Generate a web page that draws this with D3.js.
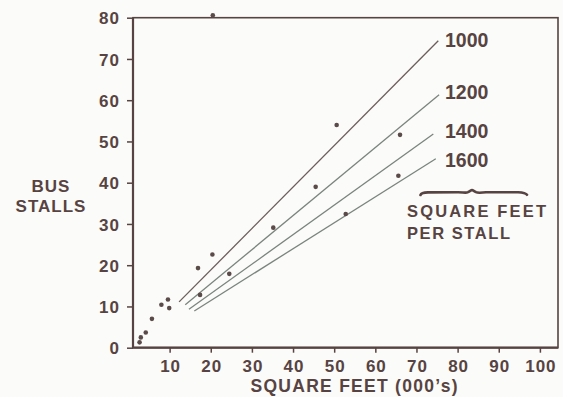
<!DOCTYPE html>
<html>
<head>
<meta charset="utf-8">
<script src="https://cdn.jsdelivr.net/npm/d3@7"></script>
<style>
  html, body { margin: 0; padding: 0; background: #fbfbf9; }
  svg { display: block; }
  text { font-family: "Liberation Sans", Arial, sans-serif; font-weight: bold; fill: #574341; }
</style>
</head>
<body>
<svg id="chart" width="563" height="397"></svg>
<script>
// Observed bus terminals: floor area (thousands of sq ft) vs. number of bus stalls
const areaK  = [2.7, 3.0, 4.2, 5.7, 8.0, 9.6, 9.9, 16.9, 20.4, 17.4, 24.5, 35.2, 45.5, 50.6, 52.8, 65.6, 66.0, 20.5];
const stalls = [1.3, 2.5, 3.7, 7.0, 10.4, 11.7, 9.6, 19.3, 22.6, 12.8, 17.9, 29.1, 39.0, 54.0, 32.4, 41.7, 51.6, 80.6];

// Reference lines for constant square feet per stall: [start, end] as [area, stalls]
const lineLabels = ["1000", "1200", "1400", "1600"];
const lineStart  = [[12.3, 11.1], [13.8, 10.4], [14.7, 9.3], [16.0, 8.9]];
const lineEnd    = [[75.3, 74.4], [75.5, 61.3], [74.1, 51.8], [74.7, 45.8]];

const xTicks = [10, 20, 30, 40, 50, 60, 70, 80, 90, 100];
const yTicks = [0, 10, 20, 30, 40, 50, 60, 70, 80];

const ink = "#574341";
const svg = d3.select("#chart");

const x = d3.scaleLinear().domain([1.1, 104.4]).range([133, 558]);
const y = d3.scaleLinear().domain([0, 80]).range([347.7, 17.7]);

// Frame around the plotting area
svg.append("rect")
  .attr("x", x.range()[0]).attr("y", y.range()[1])
  .attr("width", x.range()[1] - x.range()[0])
  .attr("height", y.range()[0] - y.range()[1])
  .attr("fill", "none").attr("stroke", ink).attr("stroke-width", 1.6);

// Heavier left and bottom axis lines
svg.append("line").attr("x1", 133).attr("x2", 133).attr("y1", 17.7).attr("y2", 348)
  .attr("stroke", ink).attr("stroke-width", 2.2);
svg.append("line").attr("x1", 132).attr("x2", 558).attr("y1", 347.7).attr("y2", 347.7)
  .attr("stroke", ink).attr("stroke-width", 2.2);

// Y axis
const gy = svg.append("g").attr("transform", "translate(133,0)")
  .call(d3.axisLeft(y).tickValues(yTicks).tickSize(6).tickPadding(8));
gy.select(".domain").remove();
gy.selectAll(".tick line").attr("stroke", ink).attr("stroke-width", 1.5);
gy.selectAll(".tick text")
  .attr("fill", ink).attr("font-size", 17).attr("letter-spacing", "1px")
  .attr("font-family", "Liberation Sans, Arial, sans-serif").attr("font-weight", "bold")
  .attr("x", -13).attr("dy", "0.36em");

// X axis
const gx = svg.append("g").attr("transform", "translate(0,347.7)")
  .call(d3.axisBottom(x).tickValues(xTicks).tickSize(5));
gx.select(".domain").remove();
gx.selectAll(".tick line").attr("stroke", ink).attr("stroke-width", 1.5);
gx.selectAll(".tick text")
  .attr("fill", ink).attr("font-size", 17).attr("letter-spacing", "1px")
  .attr("font-family", "Liberation Sans, Arial, sans-serif").attr("font-weight", "bold")
  .attr("y", 24.5).attr("dy", 0).attr("dx", "0.5px");

// Axis titles
svg.append("text").attr("x", 354).attr("y", 392).attr("text-anchor", "middle")
  .attr("font-size", 17.5).attr("textLength", 207).attr("lengthAdjust", "spacing")
  .text("SQUARE FEET (000\u2019s)");
svg.append("text").attr("x", 51).attr("y", 192).attr("text-anchor", "middle")
  .attr("font-size", 17).attr("letter-spacing", "1px").text("BUS");
svg.append("text").attr("x", 51).attr("y", 212).attr("text-anchor", "middle")
  .attr("font-size", 17).attr("letter-spacing", "1px").text("STALLS");

// Constant-density reference lines
const lineColors = ["#6c5d5b", "#7a847e", "#7a847e", "#7a847e"];
lineLabels.forEach((lab, i) => {
  svg.append("line")
    .attr("x1", x(lineStart[i][0])).attr("y1", y(lineStart[i][1]))
    .attr("x2", x(lineEnd[i][0])).attr("y2", y(lineEnd[i][1]))
    .attr("stroke", lineColors[i]).attr("stroke-width", 1.3);
});

// Labels at the upper end of each line
const labelY = [46.5, 98.5, 138.2, 166.5];
svg.selectAll("text.linelab").data(lineLabels).join("text")
  .attr("class", "linelab")
  .attr("x", 445).attr("y", (d, i) => labelY[i])
  .attr("font-size", 19.5)
  .text(d => d);

// Brace and legend caption
svg.append("path")
  .attr("d", "M420.5,195 C421,193.5 423,192.6 428,192.4 L458,192.2 C463,192.2 466,193.2 468,192.2 C470,191 471,190.3 472,190.1 C473,190.3 474,191 476,192.2 C478,193.2 481,192.6 486,192.3 L518,192.3 C523,192.6 526,193.4 527,194.8")
  .attr("fill", "none").attr("stroke", ink).attr("stroke-width", 2.6).attr("stroke-linecap", "round");
svg.append("text").attr("x", 407).attr("y", 216.7)
  .attr("font-size", 16.5).attr("textLength", 139).attr("lengthAdjust", "spacing")
  .text("SQUARE FEET");
svg.append("text").attr("x", 407).attr("y", 239)
  .attr("font-size", 16.5).attr("textLength", 103).attr("lengthAdjust", "spacing")
  .text("PER STALL");

// Observed terminals
svg.selectAll("circle.obs").data(areaK).join("circle")
  .attr("class", "obs")
  .attr("cx", d => x(d))
  .attr("cy", (d, i) => y(stalls[i]))
  .attr("r", 2.3)
  .attr("fill", "#5a4a48");
</script>
</body>
</html>
